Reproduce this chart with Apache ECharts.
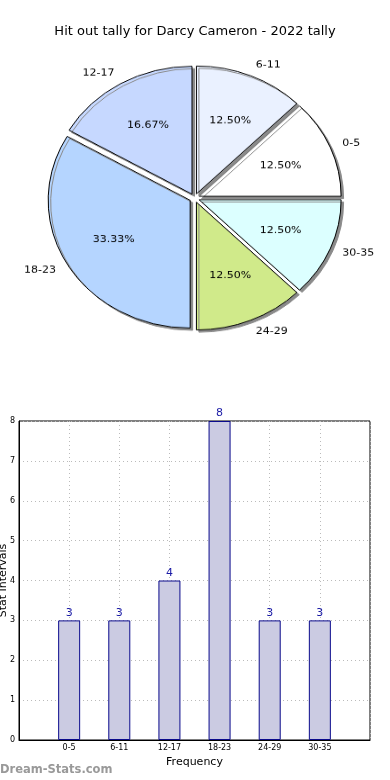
<!DOCTYPE html>
<html>
<head>
<meta charset="utf-8">
<script src="https://cdn.jsdelivr.net/npm/echarts@6/dist/echarts.min.js"></script>
<style>
html,body{margin:0;padding:0;background:#fff;}
#wrap{position:relative;width:390px;height:780px;overflow:hidden;}
#c{position:absolute;left:0;top:0;width:390px;height:780px;}
#p{position:absolute;left:0;top:0;width:390px;height:400px;transform:scaleY(0.9);transform-origin:0 0;}
</style>
</head>
<body>
<div id="wrap"><div id="c"></div><div id="p"></div></div>
<script>
const titleText = 'Hit out tally for Darcy Cameron - 2022 tally';
const categories = ['0-5', '6-11', '12-17', '18-23', '24-29', '30-35'];
const counts = [3, 3, 4, 8, 3, 3];
const sliceColors = ['#ffffff', '#eaf1ff', '#c6d8ff', '#b5d5ff', '#d0ea8a', '#dcffff'];
const yTicks = [0, 1, 2, 3, 4, 5, 6, 7, 8];

const total = counts.reduce((a, b) => a + b, 0);
const FONT = 'DejaVu Sans';
const SY = 0.9;
const R = 142;
const pieCenter = [194.5, 198 / SY];
const OFF = 5;

const pieData = categories.map((c, i) => ({
  name: c, value: counts[i], selected: true,
  itemStyle: { color: sliceColors[i] }
}));
const pctData = categories.map((c, i) => ({
  name: c, value: counts[i], selected: true
}));

const chart = echarts.init(document.getElementById('c'), null, { renderer: 'canvas' });
chart.setOption({
  animation: false,
  backgroundColor: '#fff',
  title: {
    text: titleText, left: 'center', top: 20,
    textStyle: { fontFamily: FONT, fontSize: 13, fontWeight: 'normal', color: '#000' }
  },
  grid: {
    left: 19, right: 20, top: 421, bottom: 40,
    containLabel: false, outerBoundsMode: 'none',
    show: true, borderColor: '#000', borderWidth: 1, backgroundColor: 'transparent'
  },
  xAxis: {
    type: 'value', min: -1, max: 6, interval: 1,
    name: 'Frequency', nameLocation: 'middle', nameGap: 17, nameMoveOverlap: false,
    nameTextStyle: { fontFamily: FONT, fontSize: 11, color: '#000' },
    axisLine: { onZero: false, lineStyle: { color: '#000' } },
    axisTick: { show: false },
    axisLabel: {
      fontFamily: FONT, fontSize: 8, color: '#000', margin: 4,
      formatter: v => (categories[v] !== undefined ? categories[v] : '')
    },
    splitLine: { show: true, lineStyle: { color: '#bbb', type: [1, 3], width: 1 } }
  },
  yAxis: {
    type: 'value', min: yTicks[0], max: yTicks[yTicks.length - 1], interval: 1,
    name: 'Stat Intervals', nameLocation: 'middle', nameGap: 10, nameRotate: 90,
    nameMoveOverlap: false,
    nameTextStyle: { fontFamily: FONT, fontSize: 11, color: '#000' },
    axisLine: { show: true, onZero: false, lineStyle: { color: '#000' } },
    axisTick: { show: false },
    axisLabel: { fontFamily: FONT, fontSize: 8, color: '#000', margin: 4 },
    splitLine: { show: true, lineStyle: { color: '#bbb', type: [1, 3], width: 1 } }
  },
  graphic: [{
    type: 'text', left: 0, top: 764,
    style: { text: 'Dream-Stats.com', fill: '#999', font: 'bold 11.5px "DejaVu Sans"' }
  }],
  series: [
    {
      type: 'bar',
      data: counts.map((v, i) => [i, v]),
      barWidth: 22,
      itemStyle: { color: '#cbcbe2', borderColor: '#0a0a8c', borderWidth: 1 },
      label: {
        show: true, position: 'top', distance: 2,
        fontFamily: FONT, fontSize: 11, color: '#1a1aa6'
      },
      emphasis: { disabled: true }
    }
  ]
});

const pie = echarts.init(document.getElementById('p'), null, { renderer: 'canvas' });
pie.setOption({
  animation: false,
  backgroundColor: 'transparent',
  series: [
    {
      type: 'pie', center: pieCenter, radius: [0, R],
      startAngle: 0, clockwise: false,
      selectedMode: 'multiple', selectedOffset: OFF,
      avoidLabelOverlap: false, silent: true,
      data: pieData,
      itemStyle: {
        borderColor: '#000', borderWidth: 1,
        shadowColor: '#8a8a8a', shadowBlur: 0, shadowOffsetX: 2.5, shadowOffsetY: 2.5
      },
      label: {
        show: true, position: 'outside', fontFamily: FONT, fontSize: 11, color: '#000',
        formatter: '{b}', distanceToLabelLine: 0
      },
      labelLine: { show: false, length: 13, length2: 0 },
      emphasis: { disabled: true }
    },
    {
      type: 'pie', center: pieCenter, radius: [R * 0.2, R],
      startAngle: 0, clockwise: false,
      selectedMode: 'multiple', selectedOffset: OFF,
      avoidLabelOverlap: false, silent: true,
      data: pctData,
      itemStyle: { color: 'transparent', borderWidth: 0 },
      label: {
        show: true, position: 'inside', fontFamily: FONT, fontSize: 11, color: '#000',
        formatter: p => (p.value / total * 100).toFixed(2) + '%'
      },
      labelLine: { show: false },
      emphasis: { disabled: true }
    }
  ]
});
</script>
</body>
</html>
